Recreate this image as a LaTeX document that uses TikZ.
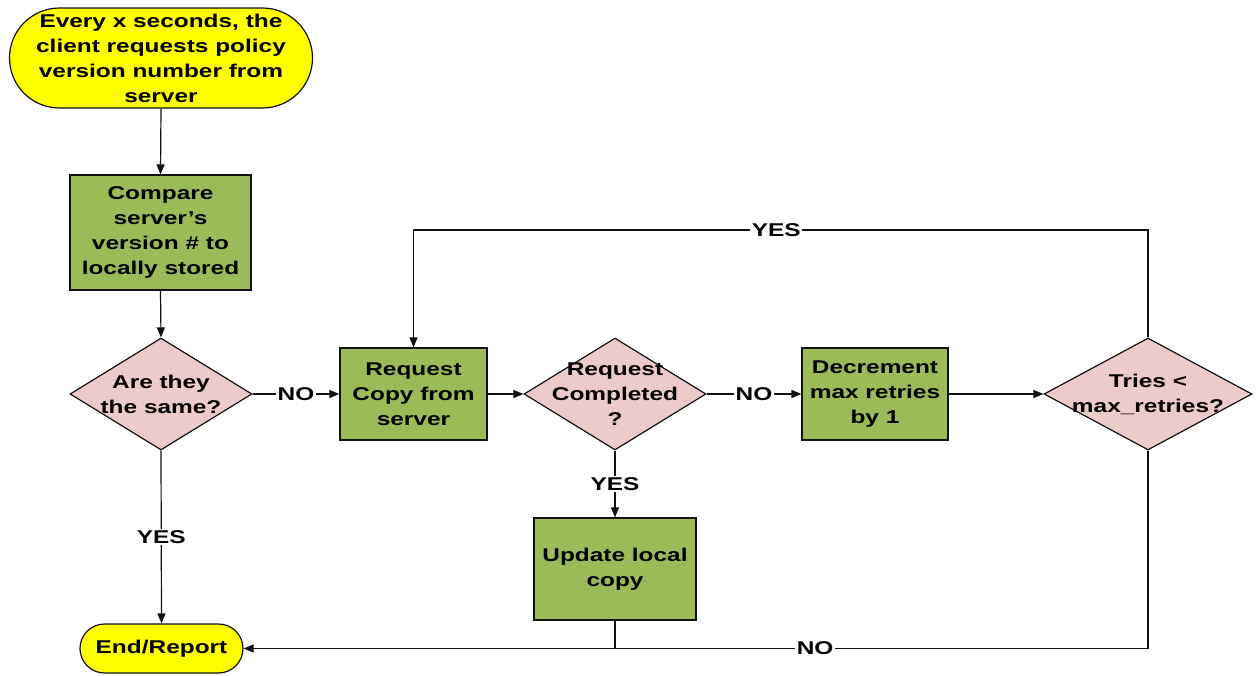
\documentclass[tikz,border=0pt]{standalone}
\usepackage{fontspec}
\setmainfont{Liberation Sans}[FakeStretch=1.32]
\usetikzlibrary{arrows.meta,shapes.geometric}
\definecolor{termfill}{HTML}{FFFF00}
\definecolor{boxfill}{HTML}{9BBB59}
\definecolor{diafill}{HTML}{EDCBCA}
\definecolor{edge}{HTML}{111111}
\begin{document}
\begin{tikzpicture}[x=1pt,y=-1pt,
  every node/.style={font=\fontsize{18.5}{25}\selectfont\bfseries, align=center, text=black},
  term/.style={draw=edge, line width=1.2pt, fill=termfill, inner sep=0pt},
  procbox/.style={draw=edge, line width=1.2pt, fill=boxfill, inner sep=0pt},
  decision/.style={draw=edge, line width=1.2pt, fill=diafill, diamond, inner sep=0pt},
  conn/.style={draw=edge, line width=1.2pt},
  arr/.style={conn, -{Triangle[length=10pt,width=8pt]}},
  lab/.style={fill=white, inner sep=1.5pt}
]
\useasboundingbox (0,0) rectangle (1258,675);

\node[term, minimum width=303pt, minimum height=100pt, rounded corners=50pt] (start) at (161,58)
  {Every x seconds, the\\client requests policy\\version number from\\server};
\node[procbox, minimum width=181pt, minimum height=115pt] (cmp) at (160.5,232.5)
  {Compare\\server’s\\version \# to\\locally stored};
\node[decision, minimum width=182pt, minimum height=112pt,
  label={[align=center]center:Are they\\the same?}] (d1) at (161,394) {};
\node[procbox, minimum width=147pt, minimum height=92pt] (b2) at (413.5,394)
  {Request\\Copy from\\server};
\node[decision, minimum width=182pt, minimum height=112pt,
  label={[align=center]center:Request\\Completed\\?}] (d2) at (615,394) {};
\node[procbox, minimum width=146pt, minimum height=92pt] (b3) at (875,394)
  {Decrement\\max retries\\by 1};
\node[decision, minimum width=208pt, minimum height=112pt,
  label={[align=center]center:Tries <\\max\_retries?}] (d3) at (1148,394) {};
\node[procbox, minimum width=162pt, minimum height=102pt] (b4) at (615,569)
  {Update local\\copy};
\node[term, minimum width=163pt, minimum height=49pt, rounded corners=24.5pt] (end) at (161.5,648.5)
  {End/Report};

\coordinate (yesturn) at (b2.north |- 0,230);
\coordinate (b4join) at (b4.south |- end.east);

\draw[arr] (start.south) -- (cmp.north);
\draw[arr] (cmp.south) -- (d1.north);
\draw[arr] (d1.east) -- node[lab]{NO} (b2.west);
\draw[arr] (d1.south) -- node[lab]{YES} (end.north);
\draw[arr] (b2.east) -- (d2.west);
\draw[arr] (d2.east) -- node[lab]{NO} (b3.west);
\draw[arr] (d2.south) -- node[lab]{YES} (b4.north);
\draw[arr] (b3.east) -- (d3.west);
\draw[arr] (d3.north) |- node[lab, pos=0.753]{YES} (yesturn) -- (b2.north);
\draw[arr] (d3.south) |- node[lab, pos=0.684]{NO} (end.east);
\draw[conn] (b4.south) -- (b4join);
\end{tikzpicture}
\end{document}
